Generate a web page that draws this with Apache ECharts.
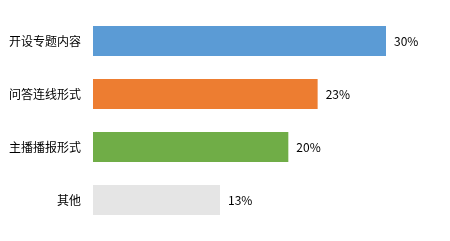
<!DOCTYPE html>
<html><head><meta charset="utf-8">
<script src="https://cdn.jsdelivr.net/npm/echarts@6/dist/echarts.min.js"></script>
<style>html,body{margin:0;padding:0;background:#fff}#c{width:450px;height:241px}</style>
</head><body><div id="c"></div>
<script>
const categories = ['开设专题内容', '问答连线形式', '主播播报形式', '其他'];
const values = [30, 23, 20, 13];
const colors = ['#5B9BD5', '#ED7D31', '#70AD47', '#E5E5E5'];

const chart = echarts.init(document.getElementById('c'), null, {renderer: 'canvas'});
chart.setOption({
  animation: false,
  grid: {left: 93, top: 14.5, width: 341.83, height: 212},
  xAxis: {type: 'value', min: 0, max: 35, show: false},
  yAxis: {
    type: 'category', inverse: true, data: categories,
    axisLine: {show: false}, axisTick: {show: false},
    axisLabel: {margin: 12, fontSize: 12, color: '#000', fontFamily: 'Noto Sans CJK SC'}
  },
  series: [{
    type: 'bar', barWidth: 30,
    data: values.map((v, i) => ({value: v, itemStyle: {color: colors[i]}})),
    label: {show: true, position: 'right', distance: 8, formatter: '{c}%', fontSize: 12, color: '#000', fontFamily: 'Noto Sans CJK SC'}
  }]
});
</script></body></html>
